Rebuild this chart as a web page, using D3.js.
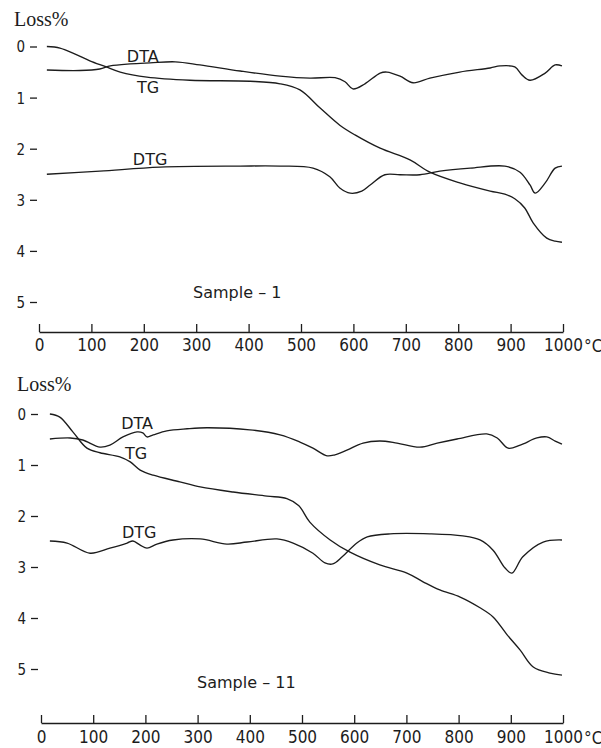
<!DOCTYPE html>
<html>
<head>
<meta charset="utf-8">
<script src="https://cdn.jsdelivr.net/npm/d3@7"></script>
<style>
  body { margin: 0; background: #fff; }
  svg { display: block; }
  .curve { fill: none; stroke: #1c1c1c; stroke-width: 1.35; }
  .lbl { font-family: 'DejaVu Sans', sans-serif; font-size: 16px; fill: #1c1c1c; }
  .num { font-family: 'DejaVu Sans Condensed', 'DejaVu Sans', sans-serif; font-size: 17px; fill: #1c1c1c; }
  .loss { font-family: 'Liberation Serif', serif; font-size: 20px; fill: #1c1c1c; }
</style>
</head>
<body>
<div id="chart"></div>
<script>
// temperature ticks (deg C) and loss ticks (%)
const xTicks = [0, 100, 200, 300, 400, 500, 600, 700, 800, 900, 1000]
const yTicks = [0, 1, 2, 3, 4, 5]

// Sample 1 : [temperature, loss%]
const tg1 = [[15, 0.0], [40, 0.03], [69, 0.15], [97, 0.28], [126, 0.39], [155, 0.5], [206, 0.6], [288, 0.66],
  [403, 0.68], [460, 0.73], [498, 0.85], [536, 1.2], [574, 1.54], [603, 1.73], [651, 1.99], [708, 2.22],
  [746, 2.46], [803, 2.67], [861, 2.83], [889, 2.89], [908, 2.98], [927, 3.16], [943, 3.45], [969, 3.75],
  [985, 3.81], [998, 3.83]]
const dta1 = [[15, 0.46], [78, 0.47], [116, 0.44], [136, 0.38], [174, 0.34], [212, 0.32], [260, 0.3], [307, 0.36],
  [384, 0.48], [460, 0.58], [517, 0.62], [565, 0.61], [584, 0.69], [599, 0.83], [622, 0.73], [651, 0.52],
  [664, 0.5], [689, 0.58], [714, 0.71], [746, 0.62], [803, 0.5], [861, 0.42], [880, 0.38], [908, 0.4],
  [922, 0.56], [937, 0.66], [966, 0.52], [985, 0.36], [998, 0.38]]
const dtg1 = [[15, 2.5], [116, 2.44], [231, 2.36], [384, 2.34], [460, 2.34], [523, 2.38], [555, 2.55], [574, 2.77],
  [594, 2.87], [616, 2.83], [632, 2.71], [660, 2.51], [689, 2.51], [727, 2.51], [765, 2.44], [823, 2.38],
  [889, 2.34], [918, 2.46], [937, 2.71], [947, 2.87], [966, 2.67], [985, 2.38], [998, 2.34]]

// Sample 11 : [temperature, loss%]
const tg11 = [[17, 0.0], [36, 0.06], [61, 0.35], [88, 0.67], [113, 0.76], [151, 0.84], [171, 0.94], [190, 1.1],
  [215, 1.2], [266, 1.33], [305, 1.43], [368, 1.53], [433, 1.61], [471, 1.66], [494, 1.8], [515, 2.12],
  [554, 2.47], [592, 2.71], [649, 2.96], [701, 3.12], [732, 3.29], [764, 3.45], [803, 3.59], [841, 3.8],
  [866, 3.98], [893, 4.33], [918, 4.63], [943, 4.96], [975, 5.08], [998, 5.12]]
const dta11 = [[17, 0.49], [56, 0.47], [80, 0.51], [113, 0.65], [132, 0.61], [157, 0.45], [184, 0.35], [195, 0.37],
  [203, 0.45], [215, 0.41], [241, 0.33], [280, 0.29], [318, 0.27], [400, 0.31], [458, 0.41], [496, 0.55],
  [521, 0.67], [548, 0.82], [563, 0.8], [586, 0.71], [617, 0.57], [649, 0.53], [682, 0.57], [726, 0.65],
  [759, 0.57], [797, 0.49], [854, 0.39], [874, 0.47], [895, 0.67], [918, 0.61], [950, 0.47], [969, 0.45],
  [985, 0.53], [998, 0.59]]
const dtg11 = [[17, 2.49], [50, 2.53], [94, 2.73], [132, 2.63], [165, 2.53], [176, 2.49], [190, 2.57], [203, 2.63],
  [222, 2.55], [253, 2.47], [305, 2.45], [356, 2.55], [395, 2.51], [452, 2.45], [483, 2.53], [521, 2.73],
  [544, 2.92], [559, 2.94], [577, 2.8], [605, 2.53], [625, 2.41], [669, 2.35], [745, 2.35], [808, 2.39],
  [841, 2.47], [866, 2.67], [889, 3.02], [902, 3.12], [923, 2.8], [962, 2.51], [998, 2.47]]

const width = 601
const height = 748

const svg = d3.select('#chart').append('svg')
  .attr('width', width)
  .attr('height', height)
  .attr('viewBox', `0 0 ${width} ${height}`)

function drawPanel (p) {
  let x = d3.scaleLinear().domain([0, 1000]).range(p.xRange)
  let y = d3.scaleLinear().domain([0, 5]).range(p.yRange)
  let g = svg.append('g')

  g.append('text').attr('class', 'loss')
    .attr('x', p.lossPos[0]).attr('y', p.lossPos[1])
    .text('Loss%')

  // floating dashes next to the loss numbers
  let yAxis = g.append('g')
    .attr('transform', `translate(${p.yAxisX},0)`)
    .call(d3.axisLeft(y).tickValues(yTicks).tickFormat(d3.format('d')).tickSizeInner(7).tickSizeOuter(0).tickPadding(5))
  yAxis.select('.domain').remove()
  yAxis.selectAll('line').attr('stroke', '#1c1c1c').attr('stroke-width', 1.3)
  yAxis.selectAll('text').attr('class', 'num').attr('font-size', null).attr('font-family', null)
    .style('font-size', '15px').attr('dy', '0.36em')

  // temperature axis, ticks pointing up
  let xAxis = g.append('g')
    .attr('transform', `translate(0,${p.xAxisY})`)
    .call(d3.axisBottom(x).tickValues(xTicks).tickFormat(d3.format('d')).tickSizeInner(-8).tickSizeOuter(0).tickPadding(p.tickPad))
  xAxis.select('.domain').attr('stroke', '#1c1c1c').attr('stroke-width', 1.5)
  xAxis.selectAll('line').attr('stroke', '#1c1c1c').attr('stroke-width', 1.3)
  xAxis.selectAll('text').attr('class', 'num').attr('font-size', null).attr('font-family', null)

  g.append('text').attr('class', 'num')
    .attr('x', x(1000) + 21).attr('y', p.xAxisY + p.tickPad + 13)
    .text('°C')

  let line = d3.line().x(d => x(d[0])).y(d => y(d[1])).curve(d3.curveCatmullRom.alpha(0.5))
  g.selectAll('.curve').data([p.tg, p.dta, p.dtg]).enter().append('path')
    .attr('class', 'curve')
    .attr('d', line)

  g.selectAll('.tag').data(p.tags).enter().append('text')
    .attr('class', 'lbl tag')
    .attr('x', d => x(d.t)).attr('y', d => y(d.v))
    .attr('text-anchor', d => d.anchor || 'middle')
    .text(d => d.text)
}

drawPanel({
  xRange: [39, 563],
  yRange: [46.5, 302],
  xAxisY: 332,
  yAxisX: 37,
  tickPad: 7,
  lossPos: [14, 26],
  tg: tg1,
  dta: dta1,
  dtg: dtg1,
  tags: [
    {text: 'DTA', t: 198, v: 0.3},
    {text: 'TG', t: 208, v: 0.91},
    {text: 'DTG', t: 212, v: 2.32},
    {text: 'Sample – 1', t: 294, v: 4.92, anchor: 'start'}
  ]
})

drawPanel({
  xRange: [41, 563],
  yRange: [414, 669],
  xAxisY: 723,
  yAxisX: 38,
  tickPad: 8,
  lossPos: [17, 391],
  tg: tg11,
  dta: dta11,
  dtg: dtg11,
  tags: [
    {text: 'DTA', t: 184, v: 0.29},
    {text: 'TG', t: 182, v: 0.88},
    {text: 'DTG', t: 188, v: 2.43},
    {text: 'Sample – 11', t: 299, v: 5.37, anchor: 'start'}
  ]
})
</script>
</body>
</html>
